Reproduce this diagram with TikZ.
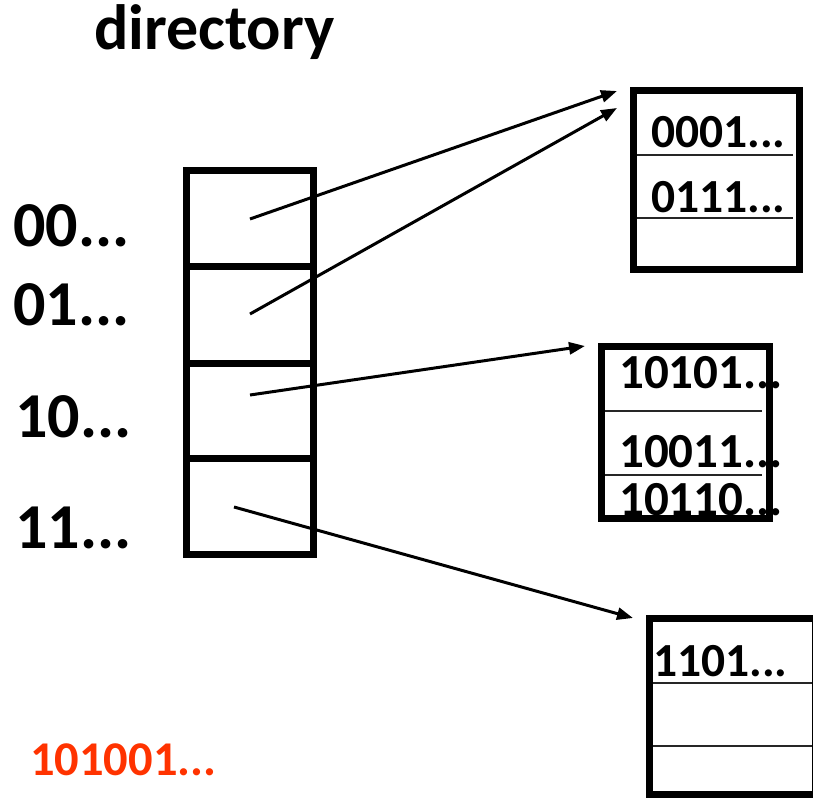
\documentclass[tikz,border=0pt]{standalone}
\usepackage{fontspec}
\setmainfont{Carlito}
\usetikzlibrary{arrows.meta}
\definecolor{hashred}{HTML}{FF3300}
\begin{document}
\begin{tikzpicture}[x=1pt,y=-1pt,
  big/.style={font=\bfseries\fontsize{64}{76}\selectfont, inner sep=0pt, anchor=base west},
  key/.style={font=\bfseries\fontsize{47.5}{57}\selectfont, inner sep=0pt, anchor=base west},
  widekey/.style={key, font=\bfseries\fontsize{49}{59}\selectfont},
  frame/.style={draw=black, line width=7pt, outer sep=0pt, inner sep=0pt},
  slot/.style={draw=black!85, line width=2.5pt},
  ptr/.style={line width=3pt, -{Triangle[length=16pt,width=12pt]}}]
\useasboundingbox (0,0) rectangle (813,799);
% title
\node[big] (title) at (94,50) {directory};
% directory cells
\node[frame, minimum width=127pt, minimum height=96.5pt] (c1) at (250,218.75) {};
\node[frame, minimum width=127pt, minimum height=96pt] (c2) at (250,315) {};
\node[frame, minimum width=127pt, minimum height=95pt] (c3) at (250,410.5) {};
\node[frame, minimum width=127pt, minimum height=96.5pt] (c4) at (250,506.25) {};
% prefixes
\node[big] (p1) at (13,247) {00...};
\node[big] (p2) at (13,325) {01...};
\node[big] (p3) at (15,437) {10...};
\node[big] (p4) at (15,548) {11...};
% buckets
\node[frame, minimum width=166pt, minimum height=179pt] (b1) at (716.5,180) {};
\node[frame, minimum width=168pt, minimum height=172pt] (b2) at (685.5,432.5) {};
\node[frame, minimum width=165.5pt, minimum height=176pt] (b3) at (732.25,706.5) {};
% slot lines
\draw[slot] (637,155) -- (793,155);
\draw[slot] (637,218) -- (793,218);
\draw[slot] (605,411) -- (762,411);
\draw[slot] (605,475) -- (762,475);
\draw[slot] (653,683) -- (812,683);
\draw[slot] (653,746) -- (812,746);
% bucket keys
\node[key] (k1) at (651,148) {0001...};
\node[key] (k2) at (651,213) {0111...};
\node[widekey] (k3) at (619,388) {10101...};
\node[widekey] (k4) at (619,467) {10011...};
\node[widekey] (k5) at (619,515) {10110...};
\node[key] (k6) at (653,676) {1101...};
% hashed key
\node[key, text=hashred, font=\bfseries\fontsize{48.5}{58}\selectfont] (h) at (30,775) {101001...};
% pointers
\coordinate (s1) at (250,219);
\coordinate (s2) at (250,314);
\coordinate (s3) at (250,395);
\coordinate (s4) at (234,507);
\coordinate (t1) at (617,91);
\coordinate (t2) at (617,108);
\coordinate (t3) at (585,346);
\coordinate (t4) at (633,618);
\draw[ptr] (s1) -- (t1);
\draw[ptr] (s2) -- (t2);
\draw[ptr] (s3) -- (t3);
\draw[ptr] (s4) -- (t4);
\end{tikzpicture}
\end{document}
